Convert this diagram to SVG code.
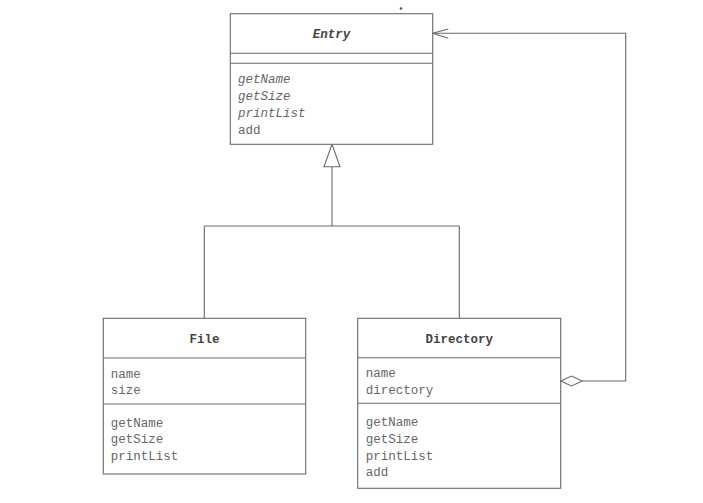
<svg xmlns="http://www.w3.org/2000/svg" width="703" height="503" viewBox="0 0 703 503">
<style>
.box{fill:#fff;stroke:#6a6a6a;stroke-width:1.1}
.div{stroke:#6a6a6a;stroke-width:1.1;fill:none}
.t{font-family:"Liberation Mono","DejaVu Sans Mono",monospace;font-size:12.5px;fill:#666}
.i{font-style:italic}
.h{font-family:"Liberation Mono","DejaVu Sans Mono",monospace;font-size:12.5px;font-weight:bold;fill:#444;text-anchor:middle}
.c{stroke:#6a6a6a;stroke-width:1.1;fill:none}
</style>
<rect width="703" height="503" fill="#fff"/>
<circle cx="401" cy="8.5" r="1.3" fill="#555"/>
<g id="connectors">
  <polyline class="c" points="332,166.7 332,226"/>
  <polyline class="c" points="204.3,226 459.3,226"/>
  <polyline class="c" points="204.3,226 204.3,318.3"/>
  <polyline class="c" points="459.3,226 459.3,318.3"/>
  <polygon class="c" points="332,144.3 324,166.7 340,166.7" fill="#fff"/>
  <polyline class="c" points="582.3,381 625.7,381 625.7,33.3 432.7,33.3"/>
  <polyline class="c" points="448.3,29 432.7,33.3 448.3,38.3"/>
  <polygon class="c" points="560.7,381 571.5,376 582.3,381 571.5,386" fill="#fff"/>
</g>
<g id="entry">
  <rect class="box" x="230.3" y="13.7" width="202.4" height="130.6"/>
  <line class="div" x1="230.3" y1="53.3" x2="432.7" y2="53.3"/>
  <line class="div" x1="230.3" y1="63.3" x2="432.7" y2="63.3"/>
  <text class="h i" x="331.5" y="38">Entry</text>
  <text class="t i" x="238" y="82.5">getName</text>
  <text class="t i" x="238" y="99.5">getSize</text>
  <text class="t i" x="238" y="116.5">printList</text>
  <text class="t" x="238" y="133.5">add</text>
</g>
<g id="file">
  <rect class="box" x="103.3" y="318.3" width="202.4" height="155.7"/>
  <line class="div" x1="103.3" y1="358" x2="305.7" y2="358"/>
  <line class="div" x1="103.3" y1="404" x2="305.7" y2="404"/>
  <text class="h" x="204.5" y="343">File</text>
  <text class="t" x="110.7" y="377.5">name</text>
  <text class="t" x="110.7" y="394.3">size</text>
  <text class="t" x="110.7" y="426.5">getName</text>
  <text class="t" x="110.7" y="443.3">getSize</text>
  <text class="t" x="110.7" y="460.3">printList</text>
</g>
<g id="directory">
  <rect class="box" x="357.7" y="318.3" width="203" height="170"/>
  <line class="div" x1="357.7" y1="357.7" x2="560.7" y2="357.7"/>
  <line class="div" x1="357.7" y1="403.3" x2="560.7" y2="403.3"/>
  <text class="h" x="459.2" y="343">Directory</text>
  <text class="t" x="365.7" y="377.3">name</text>
  <text class="t" x="365.7" y="394">directory</text>
  <text class="t" x="365.7" y="426">getName</text>
  <text class="t" x="365.7" y="443">getSize</text>
  <text class="t" x="365.7" y="460">printList</text>
  <text class="t" x="365.7" y="476">add</text>
</g>
</svg>
